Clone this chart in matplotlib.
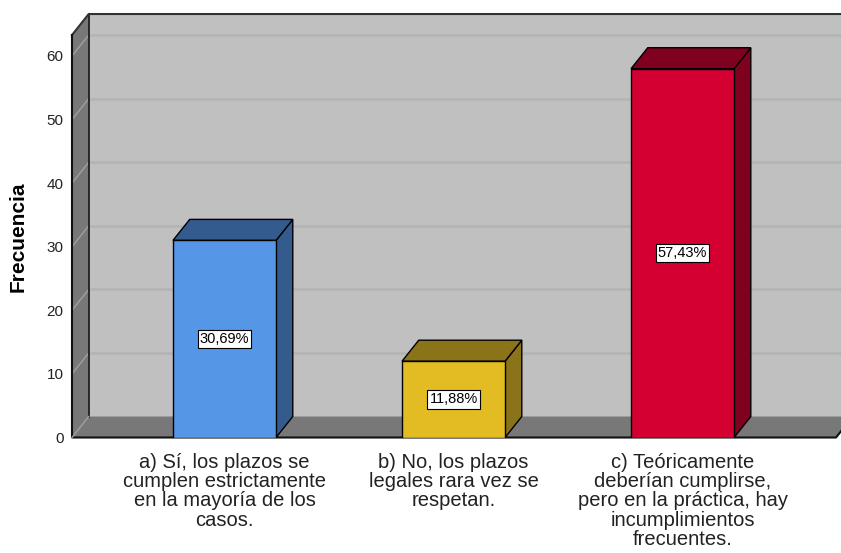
import matplotlib
matplotlib.use("Agg")
from matplotlib import pyplot as plt
from matplotlib.patches import Polygon

plt.rcParams["font.family"] = ["Liberation Sans", "DejaVu Sans"]

categories = [
    "a) Sí, los plazos se\ncumplen estrictamente\nen la mayoría de los\ncasos.",
    "b) No, los plazos\nlegales rara vez se\nrespetan.",
    "c) Teóricamente\ndeberían cumplirse,\npero en la práctica, hay\nincumplimientos\nfrecuentes.",
]
counts = [31, 12, 58]
front_colors = ["#5596e6", "#e2bc22", "#d50032"]
side_colors = ["#345b8e", "#8a7318", "#80001f"]
yticks = [0, 10, 20, 30, 40, 50, 60]

total = sum(counts)
pcts = ["{:.2f}%".format(c / total * 100).replace(".", ",") for c in counts]

# geometry of the fake 3d box (data units)
x0, x1 = -0.666, 2.67
ymax = 63.3
dx, dy = 0.073, 3.30
bw = 0.45

fig = plt.figure(figsize=(8.41, 5.53), dpi=100)
ax = fig.add_axes([72 / 841, (553 - 437.5) / 553, (836 - 72) / 841, (437.5 - 35) / 553])
ax.set_xlim(x0, x1)
ax.set_ylim(0, ymax)
ax.patch.set_visible(False)
for s in ax.spines.values():
    s.set_visible(False)

# back wall
ax.add_patch(Polygon([(x0 + dx, dy), (x1 + dx, dy), (x1 + dx, ymax + dy), (x0 + dx, ymax + dy)],
                     closed=True, facecolor="#c0c0c0", edgecolor="none", clip_on=False, zorder=0))
for t in yticks[1:]:
    ax.plot([x0 + dx, x1 + dx], [t + dy, t + dy], color="#b3b3b3", lw=1.8, clip_on=False, zorder=1)

# left side wall
ax.add_patch(Polygon([(x0, 0), (x0 + dx, dy), (x0 + dx, ymax + dy), (x0, ymax)],
                     closed=True, facecolor="#787878", edgecolor="none", clip_on=False, zorder=2))
for t in yticks[1:]:
    ax.plot([x0, x0 + dx], [t, t + dy], color="#a0a0a0", lw=1, clip_on=False, zorder=3)

# floor
ax.add_patch(Polygon([(x0, 0), (x1, 0), (x1 + dx, dy), (x0 + dx, dy)],
                     closed=True, facecolor="#787878", edgecolor="none", clip_on=False, zorder=2))
ax.plot([x0 + dx, x0 + dx], [dy, ymax + dy], color="#111111", lw=1.2, clip_on=False, zorder=3)
ax.plot([x0, x0 + dx, x1 + dx], [ymax, ymax + dy, ymax + dy], color="#333333", lw=1.5, clip_on=False, zorder=3)
ax.plot([x0, x0, x1, x1 + dx], [ymax, 0, 0, dy], color="#111111", lw=1.5, clip_on=False, zorder=3)
ax.plot([x0, x0 + dx], [0, dy], color="#a0a0a0", lw=1, clip_on=False, zorder=3)

# bars
xs = list(range(len(counts)))
ax.bar(xs, counts, width=bw, color=front_colors, edgecolor="black", linewidth=1, zorder=5)
for x, h, sc in zip(xs, counts, side_colors):
    r = x + bw / 2
    l = x - bw / 2
    ax.add_patch(Polygon([(r, 0), (r + dx, dy), (r + dx, h + dy), (r, h)],
                         closed=True, facecolor=sc, edgecolor="black", lw=1, zorder=4, clip_on=False))
    ax.add_patch(Polygon([(l, h), (r, h), (r + dx, h + dy), (l + dx, h + dy)],
                         closed=True, facecolor=sc, edgecolor="black", lw=1, zorder=4, clip_on=False))

for x, h, p in zip(xs, counts, pcts):
    ax.text(x, h / 2, p, ha="center", va="center", fontsize=10.5, zorder=6,
            bbox=dict(boxstyle="square,pad=0.15", facecolor="white", edgecolor="black", lw=0.8))

ax.set_yticks(yticks)
ax.set_yticklabels([str(t) for t in yticks], fontsize=11, color="#222222")
ax.set_xticks(xs)
ax.set_xticklabels(categories, fontsize=14.5, color="#222222", linespacing=1.02)
ax.tick_params(axis="y", length=0, pad=6)
ax.tick_params(axis="x", length=0, pad=11)
ax.set_ylabel("Frecuencia", fontsize=15, fontweight="bold")
ax.yaxis.set_label_coords(-0.058, 0.5)

fig.savefig("out.png", dpi=100)
